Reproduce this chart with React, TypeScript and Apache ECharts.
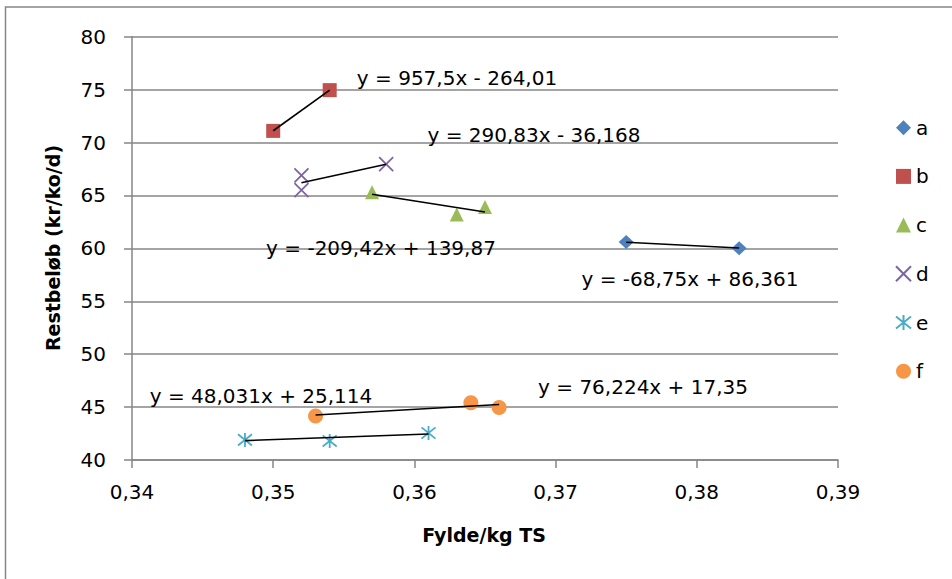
import React, { useEffect, useRef } from "react";
import * as echarts from "echarts";

// ---- data ----
const seriesNames = ["a", "b", "c", "d", "e", "f"];
const aX = [0.375, 0.383];
const aY = [60.6, 60.0];
const bX = [0.35, 0.354];
const bY = [71.1, 74.95];
const cX = [0.357, 0.363, 0.365];
const cY = [65.3, 63.2, 63.9];
const dX = [0.352, 0.352, 0.358];
const dY = [66.9, 65.5, 67.95];
const eX = [0.348, 0.354, 0.361];
const eY = [41.9, 41.8, 42.55];
const fX = [0.353, 0.364, 0.366];
const fY = [44.15, 45.4, 44.95];
// trendline equations (slope, intercept) and their labels
const trendSlopes = [-68.75, 957.5, -209.42, 290.83, 48.031, 76.224];
const trendIntercepts = [86.361, -264.01, 139.87, -36.168, 25.114, 17.35];
const trendLabels = [
  "y = -68,75x + 86,361",
  "y = 957,5x - 264,01",
  "y = -209,42x + 139,87",
  "y = 290,83x - 36,168",
  "y = 48,031x + 25,114",
  "y = 76,224x + 17,35",
];
const xTitle = "Fylde/kg TS";
const yTitle = "Restbeløb (kr/ko/d)";

const colors = ["#4F81BD", "#C0504D", "#9BBB59", "#8064A2", "#4BACC6", "#F79646"];
const FONT = "DejaVu Sans";

export default function App() {
  const ref = useRef<HTMLDivElement>(null);
  useEffect(() => {
    if (!ref.current) return;
    const chart = echarts.init(ref.current, null, { renderer: "svg" });
    const xs = [aX, bX, cX, dX, eX, fX];
    const ys = [aY, bY, cY, dY, eY, fY];
    const symbols = [
      "diamond",
      "rect",
      "triangle",
      "path://M0 0L10 10M10 0L0 10",
      "path://M0 1L10 9M10 1L0 9M5 0L5 10",
      "circle",
    ];
    const scatter = seriesNames.map((n, i) => {
      const stroke = i === 3 || i === 4;
      return {
        name: n,
        type: "scatter",
        data: xs[i].map((x, k) => [x, ys[i][k]]),
        symbol: symbols[i],
        symbolSize: i === 0 ? [15, 14] : i === 5 ? 15 : 14,
        itemStyle: stroke
          ? { color: "rgba(0,0,0,0)", borderColor: colors[i], borderWidth: 1.8, opacity: 1 }
          : { color: colors[i], opacity: 1 },
        z: 3,
      };
    });
    const trends = seriesNames.map((n, i) => {
      const x0 = Math.min(...xs[i]);
      const x1 = Math.max(...xs[i]);
      return {
        name: "trend-" + n,
        type: "line",
        data: [
          [x0, trendSlopes[i] * x0 + trendIntercepts[i]],
          [x1, trendSlopes[i] * x1 + trendIntercepts[i]],
        ],
        symbol: "none",
        lineStyle: { color: "#000", width: 1.6 },
        z: 4,
        silent: true,
      };
    });
    const labelCenters = [
      [690, 279],
      [457, 78],
      [381, 248],
      [534, 135],
      [261, 396],
      [643, 387],
    ];
    const eqTexts = trendLabels.map((t, i) => ({
      type: "text",
      x: labelCenters[i][0],
      y: labelCenters[i][1],
      z: 10,
      style: {
        text: t,
        font: `20px "${FONT}"`,
        fill: "#000",
        textAlign: "center",
        textVerticalAlign: "middle",
      },
    }));
    chart.setOption({
      animation: false,
      backgroundColor: "#fff",
      grid: { left: 132, right: 114, top: 36.7, bottom: 119, containLabel: false },
      xAxis: {
        type: "value",
        min: 0.34,
        max: 0.39,
        interval: 0.01,
        axisLine: { show: true, onZero: false, lineStyle: { color: "#868686", width: 1.5 } },
        axisTick: { show: true, inside: false, length: 8, lineStyle: { color: "#868686", width: 1.5 } },
        splitLine: { show: false },
        axisLabel: {
          margin: 22,
          color: "#000",
          fontFamily: FONT,
          fontSize: 20,
          formatter: (v: number) => v.toFixed(2).replace(".", ","),
        },
      },
      yAxis: {
        type: "value",
        min: 40,
        max: 80,
        interval: 5,
        axisLine: { show: true, onZero: false, lineStyle: { color: "#868686", width: 1.5 } },
        axisTick: { show: true, inside: false, length: 8, lineStyle: { color: "#868686", width: 1.5 } },
        splitLine: { show: true, lineStyle: { color: "#868686", width: 1.5 } },
        axisLabel: { margin: 26, color: "#000", fontFamily: FONT, fontSize: 20 },
      },
      legend: {
        data: seriesNames,
        orient: "vertical",
        left: 890,
        top: 112.7,
        itemWidth: 15,
        itemHeight: 15,
        itemGap: 28.7,
        textStyle: { color: "#000", fontFamily: FONT, fontSize: 20, lineHeight: 20 },
      },
      series: [...scatter, ...trends],
      graphic: [
        {
          type: "rect",
          shape: { x: 5.5, y: 7, width: 1000, height: 700 },
          style: { fill: "none", stroke: "#868686", lineWidth: 1.5 },
          z: -1,
          silent: true,
        },
        ...eqTexts,
        {
          type: "text",
          x: 484,
          y: 535,
          style: {
            text: xTitle,
            font: `bold 19px "${FONT}"`,
            fill: "#000",
            textAlign: "center",
            textVerticalAlign: "middle",
          },
        },
        {
          type: "text",
          x: 53,
          y: 248,
          rotation: Math.PI / 2,
          style: {
            text: yTitle,
            font: `bold 19px "${FONT}"`,
            fill: "#000",
            textAlign: "center",
            textVerticalAlign: "middle",
          },
        },
      ],
    });
    return () => chart.dispose();
  }, []);
  return (
    <div
      ref={ref}
      style={{ position: "fixed", left: 0, top: 0, width: 952, height: 579, background: "#fff" }}
    />
  );
}
